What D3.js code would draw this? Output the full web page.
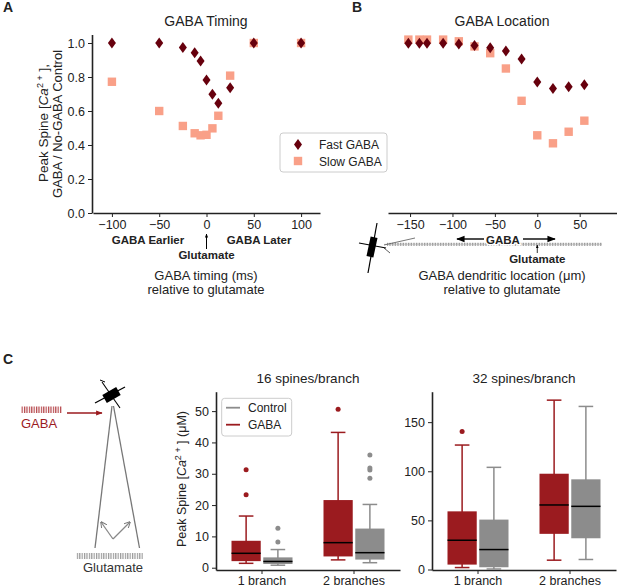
<html>
<head>
  <meta charset="utf-8">
  <script src="https://d3js.org/d3.v7.min.js"></script>
  <style>
    body { margin: 0; background: #fff; }
    text { font-family: "Liberation Sans", Arial, sans-serif; fill: #222; }
    .axis path, .axis line { stroke: #222; }
    .axis text { font-size: 12.5px; fill: #222; font-family: "Liberation Sans", Arial, sans-serif; }
  </style>
</head>
<body>
  <svg id="fig" width="617" height="588"></svg>
  <script>
    // panel A: GABA timing
    const timingX = [-100, -50, -25, -12.5, -6.25, 0, 6.25, 12.5, 25, 50, 100];
    const timingFast = [1.0, 1.0, 0.973, 0.943, 0.894, 0.782, 0.698, 0.645, 0.737, 1.0, 1.0];
    const timingSlow = [0.772, 0.60, 0.512, 0.469, 0.457, 0.46, 0.498, 0.572, 0.808, 1.0, 1.0];
    const timingTicks = [-100, -50, 0, 50, 100];
    const ratioTicks = [0, 0.2, 0.4, 0.6, 0.8, 1.0];

    // panel B: GABA location
    const locX = [-152, -139, -130, -111, -92.5, -74, -55.5, -37, -18.5, 0, 18.5, 37, 55.5];
    const locFast = [0.998, 0.998, 0.998, 0.998, 0.994, 0.986, 0.972, 0.953, 0.906, 0.77, 0.733, 0.743, 0.755];
    const locSlow = [1.02, 1.02, 1.02, 1.02, 1.01, 0.98, 0.94, 0.85, 0.66, 0.457, 0.41, 0.478, 0.543];
    const locTicks = [-150, -100, -50, 0, 50];

    // panel C: box stats per branch, [low whisker, q1, median, q3, high whisker]
    const branches = ["1 branch", "2 branches"];
    const conditions = ["GABA", "Control"];
    const s16Gaba = [[1.4, 2.1, 4.6, 8.6, 16.5], [2.5, 3.6, 8.0, 21.6, 43.2]];
    const s16GabaOut = [[23.3, 31.3], [50.6]];
    const s16Ctrl = [[0.8, 1.2, 2.0, 3.3, 5.8], [1.6, 2.6, 4.8, 12.5, 20.2]];
    const s16CtrlOut = [[8.2, 12.6], [28.6, 31.2, 31.8, 36.0]];
    const s16Ticks = [0, 10, 20, 30, 40, 50];
    const s32Gaba = [[2, 5, 29.8, 59.2, 126.7], [9.5, 36.3, 65.7, 97.5, 172.4]];
    const s32GabaOut = [[140.5], []];
    const s32Ctrl = [[0.5, 2.3, 20.3, 50.8, 104], [10.2, 31.8, 64.3, 91.8, 166]];
    const s32CtrlOut = [[], []];
    const s32Ticks = [0, 50, 100, 150];

    const fastColor = "#67000d";
    const slowColor = "#f9a088";
    const gabaColor = "#9b1b1f";
    const ctrlColor = "#8c8c8c";

    const svg = d3.select("#fig");

    // hatch patterns
    const defs = svg.append("defs");
    function hatch(id, color, w) {
      defs.append("pattern").attr("id", id).attr("patternUnits", "userSpaceOnUse")
        .attr("width", w).attr("height", 10)
        .append("rect").attr("width", w / 2).attr("height", 10).attr("fill", color);
    }
    hatch("hatchRed", "#b5454a", 2.4);
    hatch("hatchGray", "#999", 2.4);
    hatch("hatchDend", "#888", 1.6);
    defs.append("marker").attr("id", "arrowBlack").attr("viewBox", "0 0 10 10")
      .attr("refX", 9).attr("refY", 5).attr("markerWidth", 6).attr("markerHeight", 6)
      .attr("orient", "auto-start-reverse")
      .append("path").attr("d", "M0,1L10,5L0,9Z").attr("fill", "#000");
    defs.append("marker").attr("id", "arrowRed").attr("viewBox", "0 0 10 10")
      .attr("refX", 9).attr("refY", 5).attr("markerWidth", 5).attr("markerHeight", 5)
      .attr("orient", "auto")
      .append("path").attr("d", "M0,1L10,5L0,9Z").attr("fill", gabaColor);
    defs.append("marker").attr("id", "arrowGray").attr("viewBox", "0 0 10 10")
      .attr("refX", 9).attr("refY", 5).attr("markerWidth", 5).attr("markerHeight", 5)
      .attr("orient", "auto")
      .append("path").attr("d", "M0,0L10,5L0,10").attr("fill", "none").attr("stroke", "#777").attr("stroke-width", 1.5);
    defs.append("marker").attr("id", "arrowSmall").attr("viewBox", "0 0 10 10")
      .attr("refX", 9).attr("refY", 5).attr("markerWidth", 4).attr("markerHeight", 4)
      .attr("orient", "auto")
      .append("path").attr("d", "M0,1L10,5L0,9Z").attr("fill", "#000");

    function addText(x, y, str, opts = {}) {
      return svg.append("text").attr("x", x).attr("y", y)
        .attr("text-anchor", opts.anchor || "middle")
        .style("font-size", (opts.size || 13) + "px")
        .style("font-weight", opts.bold ? "bold" : "normal")
        .style("fill", opts.color || "#222")
        .text(str);
    }

    function caLabel(sel, tail) {
      sel.append("tspan").text("Peak Spine [");
      sel.append("tspan").style("font-style", "italic").text("Ca");
      sel.append("tspan").attr("dy", -5).style("font-size", "9px").text("2 +");
      sel.append("tspan").attr("dy", 5).text(" ]" + tail);
    }

    function diamond(x, y) {
      return `M${x},${y - 5.5}L${x + 4},${y}L${x},${y + 5.5}L${x - 4},${y}Z`;
    }

    // shared y for A and B
    const yRatio = d3.scaleLinear().domain([0, 1.05]).range([213, 34.5]);

    // ---------------- panel A ----------------
    const xTiming = d3.scaleLinear().domain([-120, 120]).range([93, 320]);

    svg.append("g").attr("class", "axis")
      .attr("transform", "translate(0,213)")
      .call(d3.axisBottom(xTiming).tickValues(timingTicks).tickSize(4).tickSizeOuter(0).tickFormat(d3.format("d")))
      .call(g => g.select(".domain").attr("stroke-width", 1.6))
      .call(g => g.selectAll(".tick text").text(d => d < 0 ? "\u2212" + Math.abs(d) : d));

    svg.append("g").attr("class", "axis")
      .attr("transform", "translate(92,0)")
      .call(d3.axisLeft(yRatio).tickValues(ratioTicks).tickSize(4).tickSizeOuter(0).tickFormat(d3.format(".1f")))
      .call(g => g.select(".domain").attr("stroke-width", 1.6));

    svg.append("g").selectAll("rect").data(timingX).join("rect")
      .attr("x", (d, i) => xTiming(d) - 4.2).attr("y", (d, i) => yRatio(timingSlow[i]) - 4.2)
      .attr("width", 8.4).attr("height", 8.4).attr("fill", slowColor);
    svg.append("g").selectAll("path").data(timingX).join("path")
      .attr("d", (d, i) => diamond(xTiming(d), yRatio(timingFast[i]))).attr("fill", fastColor);

    addText(206, 26, "GABA Timing", { size: 14 });
    addText(3, 12, "A", { anchor: "start", size: 14, bold: true });

    const yLabA = svg.append("text").attr("transform", "translate(47.5,123) rotate(-90)")
      .attr("text-anchor", "middle").style("font-size", "13.5px");
    caLabel(yLabA, ",");
    svg.append("text").attr("transform", "translate(62,124) rotate(-90)")
      .attr("text-anchor", "middle").style("font-size", "13px").text("GABA / No-GABA Control");

    addText(148, 244, "GABA Earlier", { size: 11.5, bold: true });
    addText(259, 244, "GABA Later", { size: 11.5, bold: true });
    addText(xTiming(0), 258.5, "Glutamate", { size: 11.5, bold: true });
    svg.append("line").attr("x1", xTiming(0)).attr("x2", xTiming(0)).attr("y1", 249).attr("y2", 234)
      .attr("stroke", "#000").attr("stroke-width", 1).attr("marker-end", "url(#arrowSmall)");
    addText(206, 280, "GABA timing (ms)", { size: 13 });
    addText(206, 294, "relative to glutamate", { size: 13 });

    // legend A
    svg.append("rect").attr("x", 280).attr("y", 133).attr("width", 107).attr("height", 39).attr("rx", 3)
      .attr("fill", "#fff").attr("stroke", "#ccc");
    svg.append("path").attr("d", diamond(298, 144.5)).attr("fill", fastColor);
    svg.append("rect").attr("x", 293.8).attr("y", 156.8).attr("width", 8.4).attr("height", 8.4).attr("fill", slowColor);
    addText(319, 149, "Fast GABA", { anchor: "start", size: 12 });
    addText(319, 166, "Slow GABA", { anchor: "start", size: 12 });

    // ---------------- panel B ----------------
    const xLoc = d3.scaleLinear().domain([-176, 94]).range([388, 617]);

    svg.append("g").attr("class", "axis")
      .attr("transform", "translate(0,213)")
      .call(d3.axisBottom(xLoc).tickValues(locTicks).tickSize(4).tickSizeOuter(0))
      .call(g => g.select(".domain").attr("stroke-width", 1.6))
      .call(g => g.selectAll(".tick text").text(d => d < 0 ? "\u2212" + Math.abs(d) : d));

    svg.append("g").selectAll("rect").data(locX).join("rect")
      .attr("x", d => xLoc(d) - 4.2).attr("y", (d, i) => yRatio(locSlow[i]) - 4.2)
      .attr("width", 8.4).attr("height", 8.4).attr("fill", slowColor);
    svg.append("g").selectAll("path").data(locX).join("path")
      .attr("d", (d, i) => diamond(xLoc(d), yRatio(locFast[i]))).attr("fill", fastColor);

    addText(502, 26, "GABA Location", { size: 14 });
    addText(352, 12, "B", { anchor: "start", size: 14, bold: true });

    // dendrite with spine
    svg.append("rect").attr("x", 387).attr("y", 242.8).attr("width", 215).attr("height", 3)
      .attr("fill", "url(#hatchDend)");
    svg.append("line").attr("x1", 384).attr("x2", 602).attr("y1", 244.3).attr("y2", 244.3)
      .attr("stroke", "#bbb").attr("stroke-width", 0.6);
    svg.append("line").attr("x1", 384).attr("y1", 245).attr("x2", 415).attr("y2", 238)
      .attr("stroke", "#555").attr("stroke-width", 0.8);
    svg.append("line").attr("x1", 384).attr("y1", 248).attr("x2", 390).attr("y2", 253)
      .attr("stroke", "#333").attr("stroke-width", 0.8);
    svg.append("line").attr("x1", 359).attr("y1", 243).attr("x2", 386).attr("y2", 248)
      .attr("stroke", "#000").attr("stroke-width", 1.2);
    svg.append("line").attr("x1", 377).attr("y1", 223).attr("x2", 368).attr("y2", 273)
      .attr("stroke", "#000").attr("stroke-width", 1.2);
    svg.append("rect").attr("x", -3.5).attr("y", -10).attr("width", 7).attr("height", 20)
      .attr("transform", "translate(372,247) rotate(12)").attr("fill", "#000");

    svg.append("text").attr("x", 503).attr("y", 243.5).attr("text-anchor", "middle")
      .attr("paint-order", "stroke").attr("stroke", "#fff").attr("stroke-width", 3)
      .style("font-size", "11.5px").style("font-weight", "bold").text("GABA");
    svg.append("line").attr("x1", 484).attr("x2", 457).attr("y1", 239).attr("y2", 239)
      .attr("stroke", "#000").attr("stroke-width", 1.4).attr("marker-end", "url(#arrowBlack)");
    svg.append("line").attr("x1", 523).attr("x2", 555).attr("y1", 239).attr("y2", 239)
      .attr("stroke", "#000").attr("stroke-width", 1.4).attr("marker-end", "url(#arrowBlack)");
    svg.append("line").attr("x1", xLoc(0)).attr("x2", xLoc(0)).attr("y1", 253).attr("y2", 245)
      .attr("stroke", "#000").attr("stroke-width", 0.8).attr("marker-end", "url(#arrowSmall)");
    addText(xLoc(0), 262.5, "Glutamate", { size: 11.5, bold: true });
    addText(502, 280, "GABA dendritic location (\u03bcm)", { size: 13 });
    addText(502, 294, "relative to glutamate", { size: 13 });

    // ---------------- panel C diagram ----------------
    addText(3, 364, "C", { anchor: "start", size: 14, bold: true });
    svg.append("rect").attr("x", 21).attr("y", 406.5).attr("width", 41).attr("height", 6.5).attr("fill", "url(#hatchRed)");
    addText(21, 428, "GABA", { anchor: "start", size: 13, color: gabaColor });
    svg.append("line").attr("x1", 67).attr("x2", 102).attr("y1", 413).attr("y2", 413)
      .attr("stroke", gabaColor).attr("stroke-width", 1.3).attr("marker-end", "url(#arrowRed)");
    svg.append("line").attr("x1", 112).attr("y1", 406).attr("x2", 95).attr("y2", 548).attr("stroke", "#777").attr("stroke-width", 1.3);
    svg.append("line").attr("x1", 113.5).attr("y1", 406).attr("x2", 139.5).attr("y2", 548).attr("stroke", "#777").attr("stroke-width", 1.3);
    svg.append("line").attr("x1", 113).attr("y1", 539).attr("x2", 101).attr("y2", 522).attr("stroke", "#888").attr("stroke-width", 1.3).attr("marker-end", "url(#arrowGray)");
    svg.append("line").attr("x1", 113).attr("y1", 539).attr("x2", 130).attr("y2", 522).attr("stroke", "#888").attr("stroke-width", 1.3).attr("marker-end", "url(#arrowGray)");
    svg.append("rect").attr("x", 76).attr("y", 553).attr("width", 67).attr("height", 6).attr("fill", "url(#hatchGray)");
    addText(113, 572, "Glutamate", { size: 13, color: "#333" });
    // spine head
    svg.append("line").attr("x1", 95).attr("y1", 403).attr("x2", 125).attr("y2", 387).attr("stroke", "#000").attr("stroke-width", 1.3);
    svg.append("line").attr("x1", 102).attr("y1", 382).attr("x2", 120).attr("y2", 408).attr("stroke", "#000").attr("stroke-width", 1.1);
    svg.append("line").attr("x1", 100).attr("y1", 380).attr("x2", 105).attr("y2", 382).attr("stroke", "#000").attr("stroke-width", 1);
    svg.append("rect").attr("x", -8).attr("y", -4.5).attr("width", 16).attr("height", 9)
      .attr("transform", "translate(111.5,395) rotate(-30)").attr("fill", "#000");

    // ---------------- panel C box plots ----------------
    function boxPanel(cfg) {
      const x = d3.scaleBand().domain(branches).range(cfg.xRange);
      const y = d3.scaleLinear().domain(cfg.yDomain).range([570, 391.7]);
      const off = d3.scaleBand().domain(conditions).range([-30.5, 30.5]).paddingInner(0.08);
      const g = svg.append("g");

      g.append("g").attr("class", "axis").attr("transform", `translate(${cfg.xRange[0]},0)`)
        .call(d3.axisLeft(y).tickValues(cfg.ticks).tickSize(4).tickSizeOuter(0))
        .call(a => a.select(".domain").attr("stroke-width", 1.6));
      g.append("g").attr("class", "axis").attr("transform", "translate(0,570)")
        .call(d3.axisBottom(x).tickSize(4).tickSizeOuter(0).tickPadding(2))
        .call(a => a.select(".domain").attr("stroke-width", 1.6));

      const series = [[cfg.gaba, cfg.gabaOut, gabaColor], [cfg.ctrl, cfg.ctrlOut, ctrlColor]];
      series.forEach(([stats, outs, color], ci) => {
        branches.forEach((b, bi) => {
          const s = stats[bi];
          const x0 = x(b) + x.bandwidth() / 2 + off(conditions[ci]);
          const w = off.bandwidth();
          const cx = x0 + w / 2;
          g.append("line").attr("x1", cx).attr("x2", cx).attr("y1", y(s[0])).attr("y2", y(s[4]))
            .attr("stroke", color).attr("stroke-width", 1.5);
          [s[0], s[4]].forEach(v => g.append("line").attr("x1", cx - w / 4).attr("x2", cx + w / 4)
            .attr("y1", y(v)).attr("y2", y(v)).attr("stroke", color).attr("stroke-width", 1.5));
          g.append("rect").attr("x", x0).attr("width", w).attr("y", y(s[3])).attr("height", y(s[1]) - y(s[3]))
            .attr("fill", color);
          g.append("line").attr("x1", x0).attr("x2", x0 + w).attr("y1", y(s[2])).attr("y2", y(s[2]))
            .attr("stroke", "#000").attr("stroke-width", 1.5);
          g.selectAll(null).data(outs[bi]).join("circle")
            .attr("cx", cx).attr("cy", d => y(d)).attr("r", 2.5).attr("fill", color);
        });
      });

      addText((cfg.xRange[0] + cfg.xRange[1]) / 2, 383, cfg.title, { size: 13.5 });
    }

    boxPanel({ xRange: [216, 400], yDomain: [-0.73, 56.2], ticks: s16Ticks, gaba: s16Gaba, gabaOut: s16GabaOut,
      ctrl: s16Ctrl, ctrlOut: s16CtrlOut, title: "16 spines/branch" });
    boxPanel({ xRange: [432, 616], yDomain: [-0.5, 181], ticks: s32Ticks, gaba: s32Gaba, gabaOut: s32GabaOut,
      ctrl: s32Ctrl, ctrlOut: s32CtrlOut, title: "32 spines/branch" });

    const yLabC = svg.append("text").attr("transform", "translate(186,479) rotate(-90)")
      .attr("text-anchor", "middle").style("font-size", "12.5px");
    caLabel(yLabC, " (\u03bcM)");

    // legend C
    svg.append("rect").attr("x", 221.7).attr("y", 398.3).attr("width", 70).attr("height", 37.7).attr("rx", 3)
      .attr("fill", "#fff").attr("stroke", "#ccc");
    svg.append("line").attr("x1", 226).attr("x2", 240).attr("y1", 407.7).attr("y2", 407.7).attr("stroke", ctrlColor).attr("stroke-width", 1.8);
    svg.append("line").attr("x1", 226).attr("x2", 240).attr("y1", 424.7).attr("y2", 424.7).attr("stroke", gabaColor).attr("stroke-width", 1.8);
    addText(248, 412, "Control", { anchor: "start", size: 12 });
    addText(248, 429, "GABA", { anchor: "start", size: 12 });
  </script>
</body>
</html>
